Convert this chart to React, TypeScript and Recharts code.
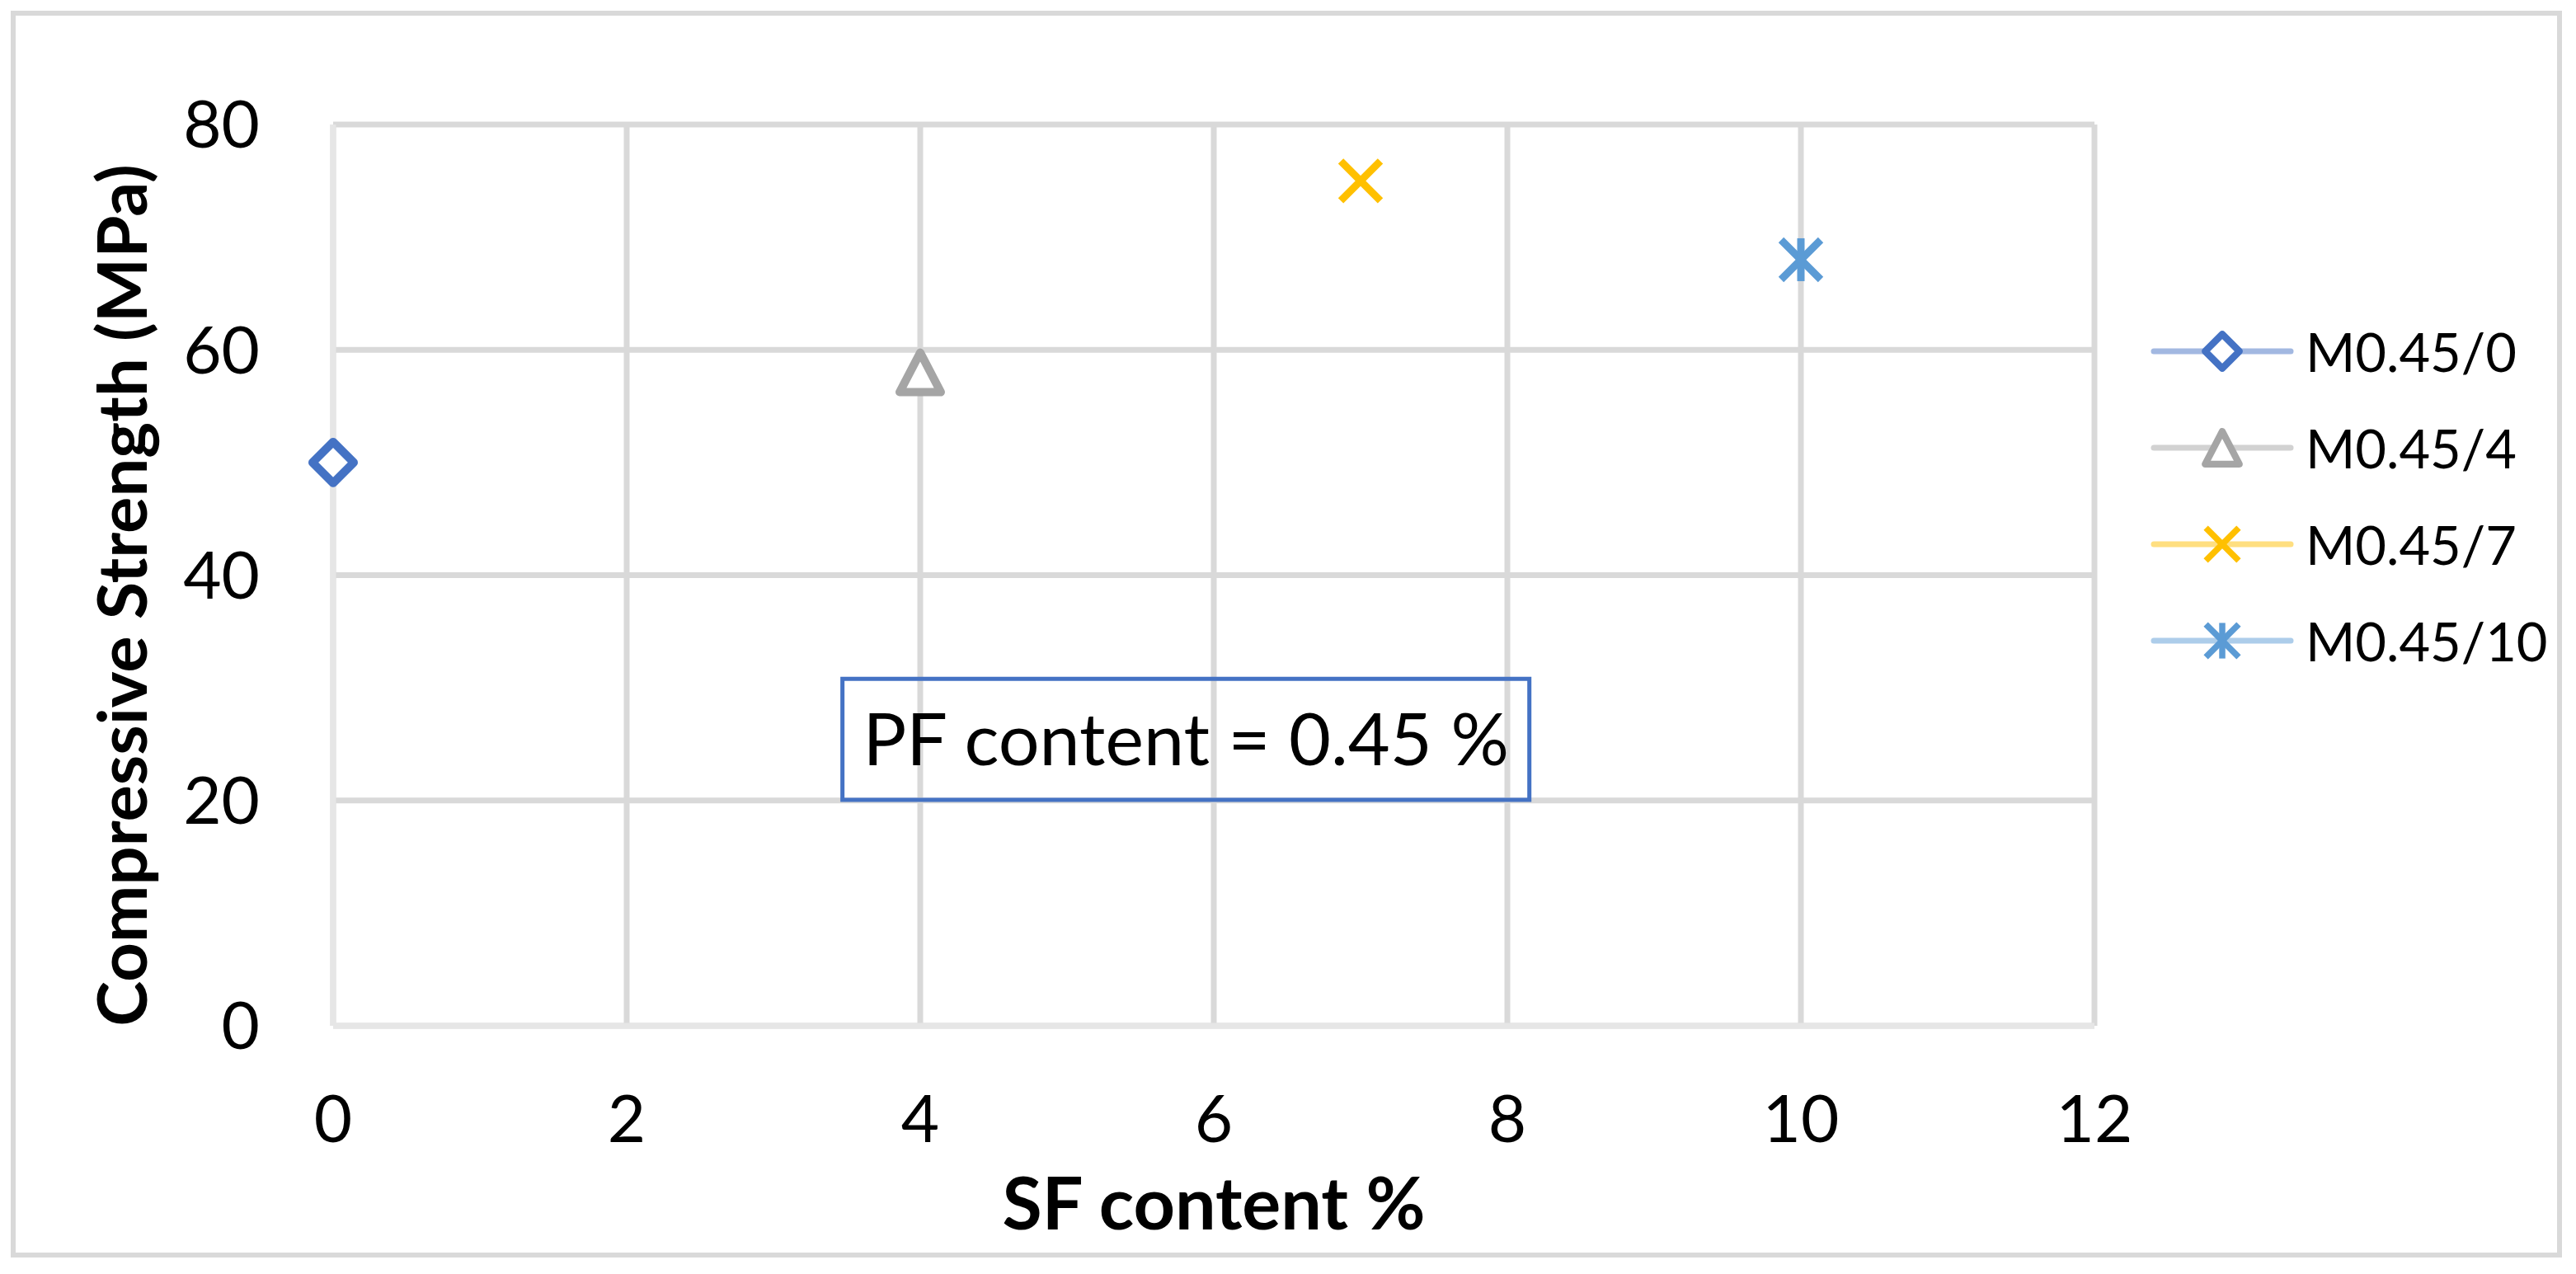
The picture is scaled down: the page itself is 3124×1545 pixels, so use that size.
import React from 'react';
import {
  ScatterChart,
  Scatter,
  XAxis,
  YAxis,
  CartesianGrid,
  Legend,
  ReferenceArea,
} from 'recharts';

// ---- data ----
const seriesNames = ['M0.45/0', 'M0.45/4', 'M0.45/7', 'M0.45/10'];
const sfContent = [0, 4, 7, 10];
const strength = [50, 58, 75, 68];
const markerColors = ['#4472C4', '#A5A5A5', '#FFC000', '#5B9BD5'];
const legendLineColors = ['#A2B8E1', '#D2D2D2', '#FFDF80', '#ADCDEA'];
const markerKinds = ['diamond', 'triangle', 'x', 'star'];
const xTicks = [0, 2, 4, 6, 8, 10, 12];
const yTicks = [0, 20, 40, 60, 80];
const noteText = 'PF content = 0.45 %';
const noteBox = { x1: 3.47, x2: 8.15, y1: 20.05, y2: 30.8 };

const FONT = 'Lato, "Open Sans", sans-serif';

function Marker({ kind, cx, cy, color, s = 1 }: any) {
  const sw = 10 * s;
  if (kind === 'diamond') {
    const h = 25 * s;
    return (
      <path
        d={`M${cx},${cy - h}L${cx + h},${cy}L${cx},${cy + h}L${cx - h},${cy}Z`}
        fill="#fff"
        stroke={color}
        strokeWidth={sw}
        strokeLinejoin="round"
      />
    );
  }
  if (kind === 'triangle') {
    const w = 25 * s;
    const h = 24 * s;
    return (
      <path
        d={`M${cx},${cy - h}L${cx + w},${cy + h}L${cx - w},${cy + h}Z`}
        fill="#fff"
        stroke={color}
        strokeWidth={sw}
        strokeLinejoin="round"
      />
    );
  }
  const h = 24 * s;
  const xs = (
    <g>
      <line x1={cx - h} y1={cy - h} x2={cx + h} y2={cy + h} stroke={color} strokeWidth={9 * s} />
      <line x1={cx - h} y1={cy + h} x2={cx + h} y2={cy - h} stroke={color} strokeWidth={9 * s} />
    </g>
  );
  if (kind === 'x') return xs;
  return (
    <g>
      {xs}
      <line x1={cx} y1={cy - 26 * s} x2={cx} y2={cy + 26 * s} stroke={color} strokeWidth={9 * s} />
    </g>
  );
}

function LegendContent() {
  const rowY = (i: number) => 46 + i * 117;
  return (
    <svg width={520} height={450} style={{ display: 'block' }}>
      {seriesNames.map((name, i) => (
        <g key={name}>
          <line
            x1={22}
            y1={rowY(i)}
            x2={188}
            y2={rowY(i)}
            stroke={legendLineColors[i]}
            strokeWidth={7}
            strokeLinecap="round"
          />
          <Marker kind={markerKinds[i]} cx={105} cy={rowY(i)} color={markerColors[i]} s={0.83} />
          <text
            x={206}
            y={rowY(i)}
            dominantBaseline="central"
            fontFamily={FONT}
            fontSize={65}
            fill="#000"
          >
            {name}
          </text>
        </g>
      ))}
    </svg>
  );
}

export default function App() {
  return (
    <div style={{ position: 'absolute', left: 0, top: 0, width: 3124, height: 1545, background: '#fff' }}>
      <div
        style={{
          position: 'absolute',
          left: 13,
          top: 13,
          width: 3094,
          height: 1512,
          border: '6px solid #D9D9D9',
          boxSizing: 'border-box',
        }}
      />
      <div style={{ position: 'absolute', left: 0, top: 0 }}>
        <ScatterChart
          width={3124}
          height={1545}
          margin={{ top: 151, right: 584, bottom: 0, left: 0 }}
        >
          <CartesianGrid stroke="#D9D9D9" strokeWidth={7} horizontalValues={yTicks} verticalValues={xTicks} />
          <XAxis
            type="number"
            dataKey="x"
            domain={[0, 12]}
            ticks={xTicks}
            interval={0}
            height={301}
            tickLine={false}
            tickSize={0}
            tickMargin={84}
            axisLine={{ stroke: '#E6E6E6', strokeWidth: 7 }}
            tick={{ fill: '#000', fontSize: 80, fontFamily: FONT }}
            label={{
              content: () => (
                <text
                  x={1472}
                  y={1491}
                  textAnchor="middle"
                  fontFamily={FONT}
                  fontWeight="bold"
                  fontSize={88}
                  fill="#000"
                >
                  SF content %
                </text>
              ),
            }}
          />
          <YAxis
            type="number"
            dataKey="y"
            domain={[0, 80]}
            ticks={yTicks}
            interval={0}
            width={404}
            tickLine={false}
            tickSize={0}
            tickMargin={89}
            axisLine={{ stroke: '#E6E6E6', strokeWidth: 7 }}
            tick={{ fill: '#000', fontSize: 80, fontFamily: FONT }}
            label={{
              content: () => (
                <text
                  x={178}
                  y={722}
                  transform="rotate(-90,178,722)"
                  textAnchor="middle"
                  fontFamily={FONT}
                  fontWeight="bold"
                  fontSize={83}
                  fill="#000"
                >
                  Compressive Strength (MPa)
                </text>
              ),
            }}
          />
          <ReferenceArea
            x1={noteBox.x1}
            x2={noteBox.x2}
            y1={noteBox.y1}
            y2={noteBox.y2}
            fill="#fff"
            fillOpacity={0}
            stroke="#4472C4"
            strokeWidth={5}
            ifOverflow="visible"
            label={{
              value: noteText,
              position: 'center',
              fontSize: 88,
              fontFamily: FONT,
              fill: '#000',
            }}
          />
          {seriesNames.map((name, i) => (
            <Scatter
              key={name}
              name={name}
              data={[{ x: sfContent[i], y: strength[i] }]}
              fill={markerColors[i]}
              isAnimationActive={false}
              shape={(p: any) => <Marker kind={markerKinds[i]} cx={p.cx} cy={p.cy} color={markerColors[i]} />}
            />
          ))}
          <Legend
            layout="vertical"
            align="center"
            verticalAlign="middle"
            content={() => <LegendContent />}
            wrapperStyle={{ position: 'absolute', left: 2590, top: 380, width: 520, height: 450 }}
          />
        </ScatterChart>
      </div>
    </div>
  );
}
